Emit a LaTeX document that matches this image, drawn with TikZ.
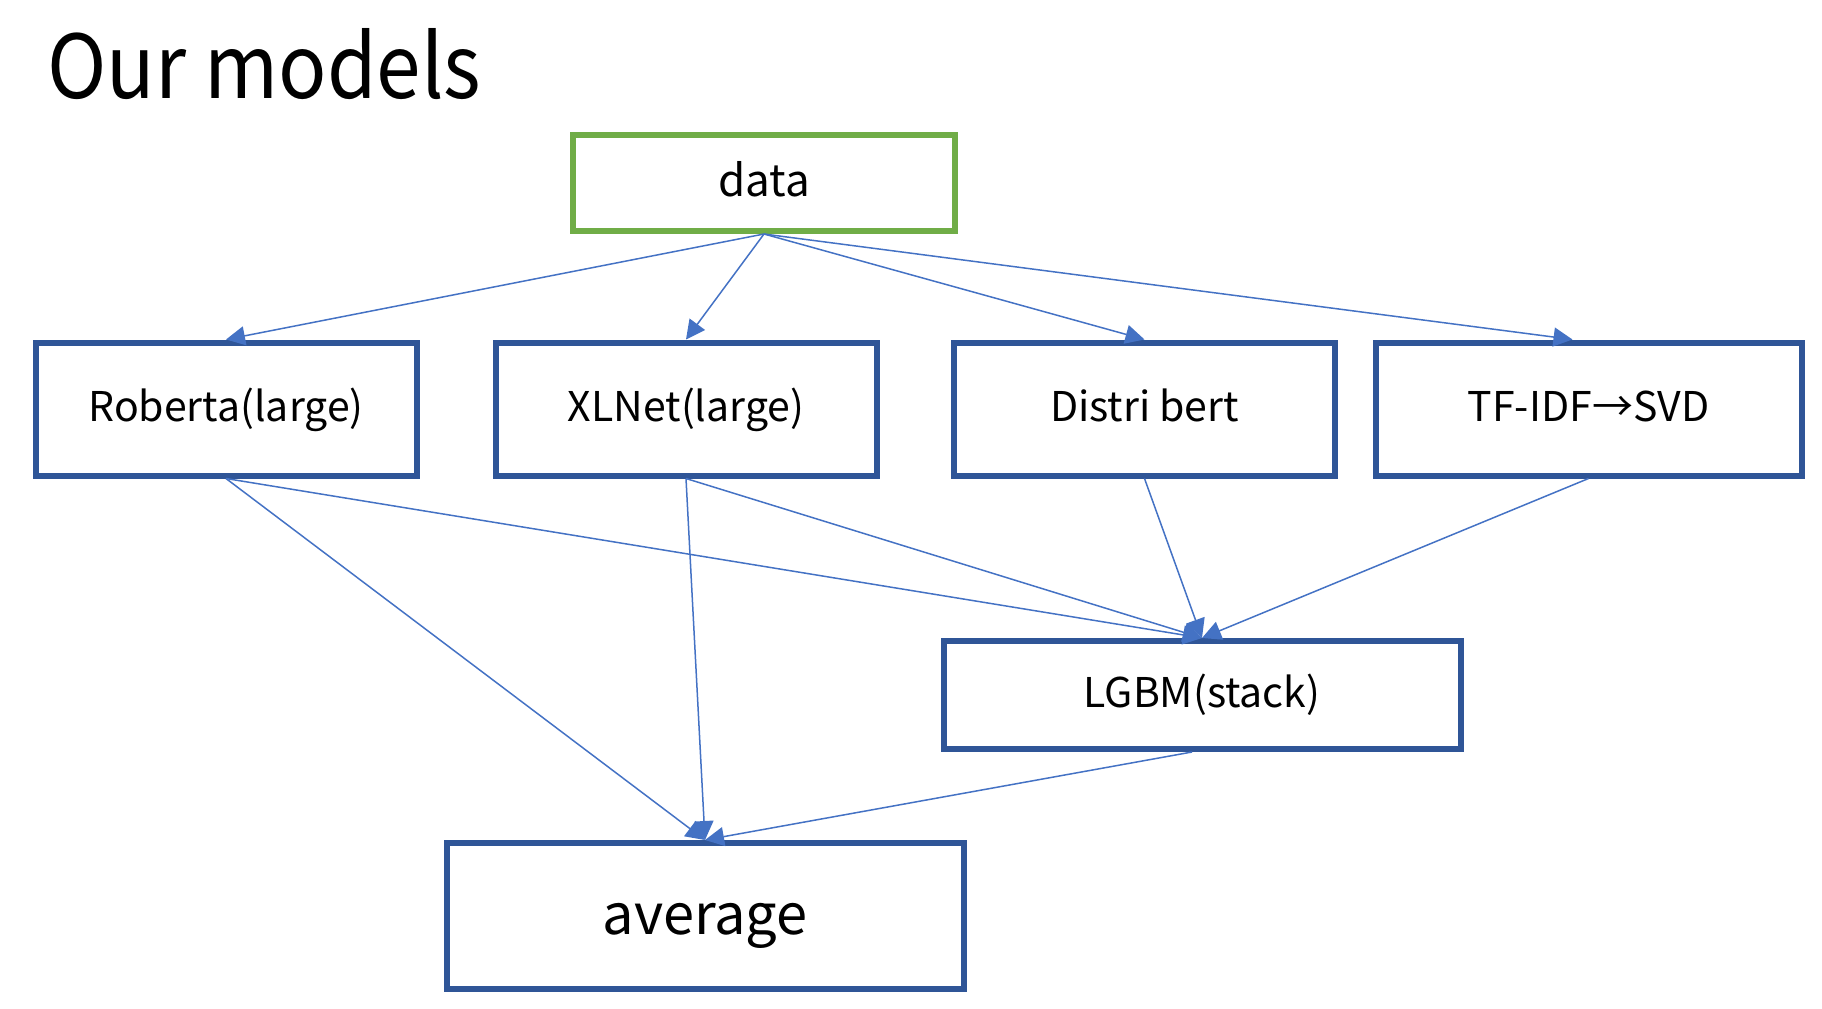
\documentclass[tikz,border=0pt]{standalone}
\usepackage{fontspec}
\setmainfont{Noto Sans CJK JP}
\newfontfamily\titlefont[FakeStretch=0.91]{Noto Sans CJK JP}
\usetikzlibrary{arrows.meta}
\definecolor{ModelBlue}{HTML}{2F5597}
\definecolor{DataGreen}{HTML}{70AD47}
\definecolor{LinkBlue}{HTML}{4472C4}
\tikzset{
  modelbox/.style={draw=ModelBlue,line width=3pt,fill=white,align=center,minimum width=190.5pt,minimum height=66.5pt,text height=17.5pt,text depth=5pt,font=\fontsize{20.5}{24}\selectfont},
  databox/.style={modelbox,draw=DataGreen,minimum width=191pt,minimum height=48pt,text height=17pt,text depth=3.5pt,font=\fontsize{22}{26}\selectfont},
  resultbox/.style={modelbox,minimum width=258.5pt},
  flow/.style={-{Triangle[length=9.5pt,width=9.5pt]},line width=0.75pt,draw=LinkBlue}
}
\begin{document}
\begin{tikzpicture}[x=0.5pt,y=-0.5pt]
  \useasboundingbox (0,0) rectangle (1822,1008);
  \node[anchor=base west,inner sep=0pt,font=\titlefont\fontsize{44}{50}\selectfont] (title) at (47,98) {Our models};
  \node[databox] (data) at (764,183) {data};
  \node[modelbox] (roberta) at (226,409) {Roberta(large)};
  \node[modelbox] (xlnet) at (686,409) {XLNet(large)};
  \node[modelbox] (distri) at (1144.5,409) {Distri bert};
  \node[modelbox,minimum width=213pt] (tfidf) at (1588.5,409) {TF-IDF→SVD};
  \node[resultbox,minimum height=54pt] (lgbm) at (1202,695) {LGBM(stack)};
  \node[resultbox,minimum height=73pt,text height=18pt,text depth=0pt,font=\fontsize{28}{32}\selectfont] (average) at (705,916) {average};
  \draw[flow] (data.south) -- (roberta.north);
  \draw[flow] (data.south) -- (xlnet.north);
  \draw[flow] (data.south) -- (distri.north);
  \draw[flow] (data.south) -- ([xshift=-8pt]tfidf.north);
  \draw[flow] (roberta.south) -- (lgbm.north);
  \draw[flow] (xlnet.south) -- (lgbm.north);
  \draw[flow] (distri.south) -- (lgbm.north);
  \draw[flow] (tfidf.south) -- (lgbm.north);
  \draw[flow] (roberta.south) -- (average.north);
  \draw[flow] (xlnet.south) -- (average.north);
  \draw[flow] ([xshift=-5pt]lgbm.south) -- (average.north);
\end{tikzpicture}
\end{document}
